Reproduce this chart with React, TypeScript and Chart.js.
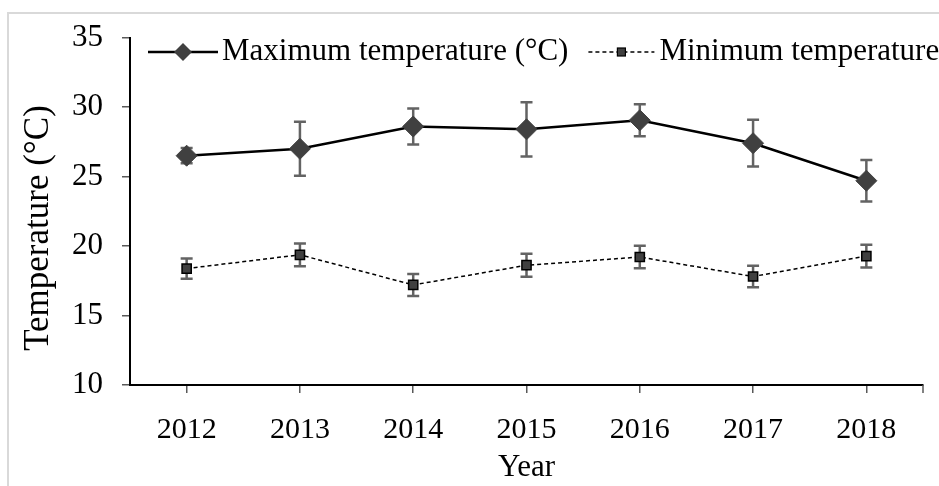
import { useEffect, useRef } from 'react';
import { Chart, registerables } from 'chart.js';

Chart.register(...registerables);

const FONT = "'Times New Roman', 'Liberation Serif', serif";

const years = ['2012', '2013', '2014', '2015', '2016', '2017', '2018'];
const maxTemp = [26.5, 27.0, 28.6, 28.4, 29.05, 27.4, 24.7];
const maxErr = [0.55, 1.95, 1.3, 1.95, 1.15, 1.68, 1.5];
const minTemp = [18.38, 19.37, 17.2, 18.62, 19.21, 17.81, 19.28];
const minErr = [0.73, 0.82, 0.79, 0.83, 0.81, 0.77, 0.82];
const yMin = 10;
const yMax = 35;
const yStep = 5;
const xTitle = 'Year';
const yTitle = 'Temperature (°C)';

const errorBarsPlugin = {
  id: 'errorBars',
  beforeDatasetsDraw(chart: any) {
    const { ctx } = chart;
    const y = chart.scales.y;
    chart.data.datasets.forEach((ds: any, i: number) => {
      const errs = ds.errors;
      if (!errs) return;
      const meta = chart.getDatasetMeta(i);
      ctx.save();
      ctx.strokeStyle = '#636363';
      ctx.lineWidth = 2.5;
      meta.data.forEach((pt: any, j: number) => {
        const v = ds.data[j];
        const e = errs[j];
        const px = pt.x;
        const y1 = y.getPixelForValue(v + e);
        const y2 = y.getPixelForValue(v - e);
        ctx.beginPath();
        ctx.moveTo(px, y1);
        ctx.lineTo(px, y2);
        ctx.moveTo(px - 6, y1);
        ctx.lineTo(px + 6, y1);
        ctx.moveTo(px - 6, y2);
        ctx.lineTo(px + 6, y2);
        ctx.stroke();
      });
      ctx.restore();
    });
  },
};

const extrasPlugin = {
  id: 'extras',
  afterDraw(chart: any) {
    const { ctx, chartArea } = chart;
    // end tick of the category axis
    ctx.save();
    ctx.strokeStyle = '#595959';
    ctx.lineWidth = 1.5;
    ctx.beginPath();
    ctx.moveTo(chartArea.right, chartArea.bottom);
    ctx.lineTo(chartArea.right, chartArea.bottom + 8);
    ctx.stroke();
    ctx.restore();

    // y axis title
    ctx.save();
    ctx.font = `35px ${FONT}`;
    ctx.fillStyle = '#000';
    ctx.textAlign = 'center';
    ctx.textBaseline = 'middle';
    ctx.translate(39, 228);
    ctx.rotate(-Math.PI / 2);
    ctx.fillText(yTitle, 0, 0);
    ctx.restore();

    // legend inside the plot area
    const ds = chart.data.datasets;
    const ly = 52;
    ctx.save();
    ctx.font = `31px ${FONT}`;
    ctx.textBaseline = 'middle';
    ctx.textAlign = 'left';
    let x0 = chartArea.left + 18;

    // entry 1: solid line + diamond
    ctx.strokeStyle = '#000';
    ctx.lineWidth = 2.5;
    ctx.setLineDash([]);
    ctx.beginPath();
    ctx.moveTo(x0, ly);
    ctx.lineTo(x0 + 70, ly);
    ctx.stroke();
    const cx1 = x0 + 35;
    ctx.fillStyle = '#404040';
    ctx.beginPath();
    ctx.moveTo(cx1, ly - 9);
    ctx.lineTo(cx1 + 9, ly);
    ctx.lineTo(cx1, ly + 9);
    ctx.lineTo(cx1 - 9, ly);
    ctx.closePath();
    ctx.fill();
    ctx.fillStyle = '#000';
    const t1x = x0 + 74;
    ctx.fillText(ds[0].label, t1x, ly);
    const w1 = ctx.measureText(ds[0].label).width;

    // entry 2: dashed line + square
    x0 = t1x + w1 + 20;
    ctx.strokeStyle = '#000';
    ctx.lineWidth = 1.5;
    ctx.setLineDash([4, 3]);
    ctx.beginPath();
    ctx.moveTo(x0, ly);
    ctx.lineTo(x0 + 66, ly);
    ctx.stroke();
    ctx.setLineDash([]);
    const cx2 = x0 + 33;
    ctx.fillStyle = '#404040';
    ctx.fillRect(cx2 - 4, ly - 4, 8, 8);
    ctx.lineWidth = 1.2;
    ctx.strokeRect(cx2 - 4, ly - 4, 8, 8);
    ctx.fillStyle = '#000';
    ctx.fillText(ds[1].label, x0 + 71, ly);
    ctx.restore();
  },
};

export default function App() {
  const ref = useRef<HTMLCanvasElement | null>(null);

  useEffect(() => {
    if (!ref.current) return;
    const tickFont = { family: FONT, size: 30 };
    const chart = new Chart(ref.current, {
      type: 'line',
      data: {
        labels: years,
        datasets: [
          {
            label: 'Maximum temperature (°C)',
            data: maxTemp,
            errors: maxErr,
            borderColor: '#000',
            borderWidth: 2.5,
            pointStyle: 'rectRot',
            pointRadius: 10.5,
            pointBackgroundColor: '#404040',
            pointBorderColor: '#404040',
            pointBorderWidth: 1,
            tension: 0,
          } as any,
          {
            label: 'Minimum temperature (°C)',
            data: minTemp,
            errors: minErr,
            borderColor: '#000',
            borderWidth: 1.5,
            borderDash: [4, 3],
            pointStyle: 'rect',
            pointRadius: 6.5,
            pointBackgroundColor: '#404040',
            pointBorderColor: '#000',
            pointBorderWidth: 1.5,
            tension: 0,
          } as any,
        ],
      },
      options: {
        responsive: false,
        animation: false,
        devicePixelRatio: 1,
        layout: { padding: { left: 0, top: 32, right: 177, bottom: 0 } },
        plugins: {
          legend: { display: false },
          tooltip: { enabled: false },
        },
        scales: {
          x: {
            type: 'category',
            offset: true,
            afterFit: (scale: any) => {
              scale.height = 101;
            },
            grid: {
              display: true,
              drawOnChartArea: false,
              offset: false,
              tickLength: 8,
              color: '#595959',
              lineWidth: 1.5,
            },
            border: { display: true, color: '#000', width: 2 },
            ticks: {
              font: tickFont,
              color: '#000',
              padding: 19,
              maxRotation: 0,
              autoSkip: false,
            },
            title: {
              display: true,
              text: xTitle,
              font: { family: FONT, size: 31 },
              color: '#000',
              padding: { top: 0, bottom: 0 },
            },
          },
          y: {
            min: yMin,
            max: yMax,
            afterFit: (scale: any) => {
              scale.width = 130;
            },
            grid: {
              display: true,
              drawOnChartArea: false,
              tickLength: 8,
              color: '#595959',
              lineWidth: 1.5,
            },
            border: { display: true, color: '#000', width: 2 },
            ticks: {
              stepSize: yStep,
              font: { family: FONT, size: 31 },
              color: '#000',
              padding: 19,
            },
            title: { display: false, text: yTitle },
          },
        },
      } as any,
      plugins: [errorBarsPlugin, extrasPlugin],
    });
    return () => chart.destroy();
  }, []);

  return (
    <div
      style={{
        position: 'fixed',
        left: 0,
        top: 0,
        width: 939,
        height: 486,
        overflow: 'hidden',
        background: '#fff',
      }}
    >
      <div
        style={{
          position: 'absolute',
          left: 7,
          top: 12,
          width: 2000,
          height: 2000,
          borderLeft: '2px solid #d9d9d9',
          borderTop: '2px solid #d9d9d9',
        }}
      />
      <canvas
        ref={ref}
        width={1100}
        height={486}
        style={{ position: 'absolute', left: 0, top: 0, width: 1100, height: 486 }}
      />
    </div>
  );
}
